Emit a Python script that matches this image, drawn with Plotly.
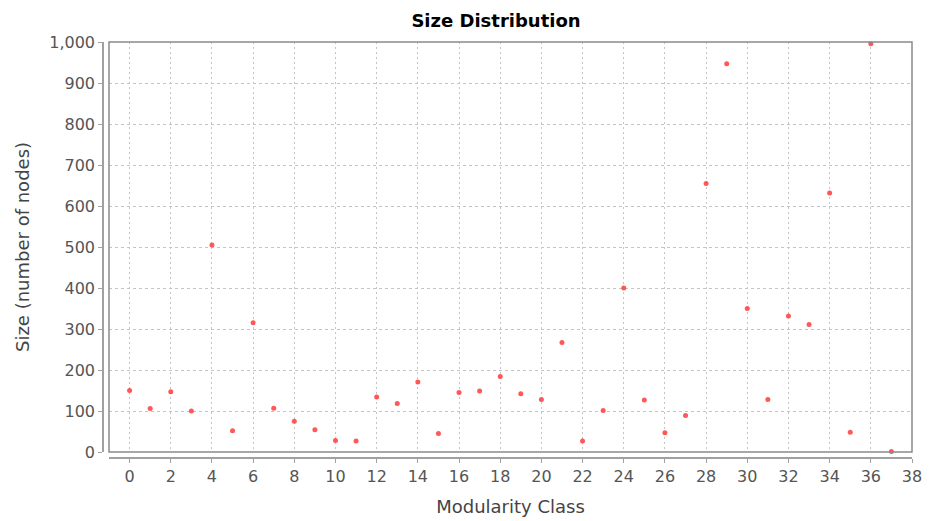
import plotly.graph_objects as go

modularity_class = list(range(38))
size_nodes = [150, 106, 147, 100, 505, 52, 315, 107, 75, 54,
              28, 27, 134, 118, 171, 45, 145, 149, 184, 142,
              128, 267, 27, 101, 400, 127, 47, 89, 655, 947,
              350, 128, 332, 311, 632, 48, 996, 1]
x_ticks = list(range(0, 39, 2))
y_ticks = list(range(0, 1001, 100))

# page body has an 8px margin, so the figure is sized to fit the window
W, H = 929, 513
L, R, T, B = 95, 25, 34, 63
plot_w = W - L - R
plot_h = H - T - B

fig = go.Figure()
fig.add_trace(go.Scatter(
    x=modularity_class, y=size_nodes, mode="markers",
    marker=dict(size=5, color="rgba(255,70,70,0.9)", line=dict(width=0)),
    cliponaxis=False, showlegend=False,
))

font_family = "DejaVu Sans, Verdana, sans-serif"
fig.update_layout(
    width=W, height=H,
    margin=dict(l=L, r=R, t=T, b=B, pad=0, autoexpand=False),
    paper_bgcolor="white", plot_bgcolor="white",
    title=dict(text="<b>Size Distribution</b>", x=488 / W, xref="container",
               y=1 - 13 / H, yref="container", xanchor="center", yanchor="middle",
               font=dict(family=font_family, size=18, color="black")),
    xaxis=dict(
        range=[-1, 38], domain=[6 / plot_w, 1], anchor="free", position=0,
        automargin=False,
        tickvals=x_ticks, ticks="outside", ticklen=4, tickcolor="#a0a0a0",
        showline=True, linecolor="#a0a0a0", linewidth=1.5,
        showgrid=True, gridcolor="#c4c4c4", gridwidth=1, griddash="2px,3px",
        zeroline=False,
        tickfont=dict(family=font_family, size=16, color="#555555"),
        title=dict(text="Modularity Class", standoff=14,
                   font=dict(family=font_family, size=18, color="#444444")),
    ),
    yaxis=dict(
        range=[0, 1000], domain=[6 / plot_h, 1], anchor="free", position=0,
        automargin=False,
        tickvals=y_ticks, tickformat=",d", ticks="outside", ticklen=4, tickcolor="#a0a0a0",
        showline=True, linecolor="#a0a0a0", linewidth=1.5,
        showgrid=True, gridcolor="#c4c4c4", gridwidth=1, griddash="3px,3px",
        zeroline=False,
        tickfont=dict(family=font_family, size=16, color="#555555"),
        title=dict(text="Size (number of nodes)", standoff=14,
                   font=dict(family=font_family, size=18, color="#444444")),
    ),
)
fig.add_shape(type="rect", xref="x domain", yref="y domain", x0=0, x1=1, y0=0, y1=1,
              line=dict(color="#8a8a8a", width=1.5), layer="above")

fig.write_html("out.html")
